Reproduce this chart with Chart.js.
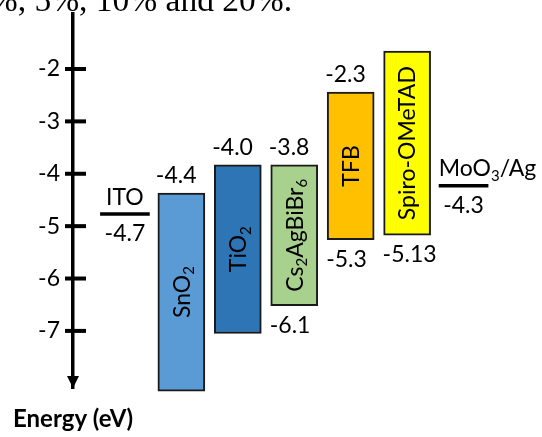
<!DOCTYPE html>
<html>
<head>
<meta charset="utf-8">
<script src="https://cdn.jsdelivr.net/npm/chart.js@4/dist/chart.umd.min.js"></script>
<style>
  html, body { margin: 0; padding: 0; background: #fff; }
</style>
</head>
<body>
<canvas id="energyChart" width="542" height="437"></canvas>
<script>
// ----------------------
// DATA
// ----------------------
const layers = ["SnO_2", "TiO_2", "Cs_2AgBiBr_6", "TFB", "Spiro-OMeTAD"];
const layerPos = [2, 3, 4, 5, 6];
const lumo = [-4.37, -3.83, -3.83, -2.44, -1.66];   // drawn top edges
const homo = [-8.15, -7.05, -6.52, -5.26, -5.17];   // drawn bottom edges
const lumoText = ["-4.4", "-4.0", "-3.8", "-2.3", ""];
const homoText = ["", "", "-6.1", "-5.3", "-5.13"];
const layerColors = ["#5b9bd5", "#2e75b6", "#a9d18e", "#ffc000", "#ffff00"];

const electrodes = ["ITO", "MoO_3/Ag"];
const electrodePos = [1, 7];
const workFn = [-4.77, -4.23];
const workFnText = ["-4.7", "-4.3"];

const yTicks = [-2, -3, -4, -5, -6, -7];
const yMin = -8.09, yMax = -0.95;

// ----------------------
// STYLE
// ----------------------
const FONT = "Lato, 'Open Sans', sans-serif";
const SIZE = 23;
const lineHalf = 0.44;   // half width of electrode level, x units

// ----------------------
// UTIL: text with _n subscripts
// ----------------------
function drawRich(ctx, txt, x, y, size, align) {
    const parts = txt.split(/_(\d)/);
    let w = 0;
    parts.forEach((p, i) => {
        ctx.font = (i % 2 ? size * 0.65 : size) + "px " + FONT;
        w += ctx.measureText(p).width;
    });
    let cx = align === "center" ? x - w / 2 : x;
    parts.forEach((p, i) => {
        const sub = i % 2 === 1;
        ctx.font = (sub ? size * 0.65 : size) + "px " + FONT;
        ctx.fillText(p, cx, y + (sub ? size * 0.2 : 0));
        cx += ctx.measureText(p).width;
    });
}

// ----------------------
// PLUGIN: axis arrow, ticks, labels
// ----------------------
const diagramPlugin = {
    id: "diagram",
    afterDraw(chart) {
        const ctx = chart.ctx;
        const ys = chart.scales.y;
        const xs = chart.scales.x;
        const ax = ys.right;
        ctx.save();
        ctx.fillStyle = "#000";
        ctx.strokeStyle = "#000";
        ctx.textBaseline = "alphabetic";
        ctx.textAlign = "left";

        // tick marks crossing the axis
        ctx.lineWidth = 4;
        ys.ticks.forEach(t => {
            const py = ys.getPixelForValue(t.value);
            ctx.beginPath();
            ctx.moveTo(ax - 8, py);
            ctx.lineTo(ax + 13, py);
            ctx.stroke();
        });

        // arrow head
        const tip = ys.getPixelForValue(yMin);
        ctx.beginPath();
        ctx.moveTo(ax - 6, tip - 12);
        ctx.lineTo(ax + 6, tip - 12);
        ctx.lineTo(ax, tip);
        ctx.closePath();
        ctx.fill();

        // layer labels
        const meta = chart.getDatasetMeta(0);
        meta.data.forEach((el, i) => {
            const top = Math.min(el.y, el.base);
            const bot = Math.max(el.y, el.base);
            const left = el.x - el.width / 2;
            if (lumoText[i]) drawRich(ctx, lumoText[i], left - 2, top - 10, SIZE, "left");
            if (homoText[i]) drawRich(ctx, homoText[i], left - 1, bot + 27, SIZE, "left");
            ctx.save();
            ctx.translate(el.x, (top + bot) / 2);
            ctx.rotate(-Math.PI / 2);
            drawRich(ctx, layers[i], 0, SIZE * 0.36, SIZE, "center");
            ctx.restore();
        });

        // electrode labels
        electrodes.forEach((name, i) => {
            const cx = xs.getPixelForValue(electrodePos[i]);
            const py = ys.getPixelForValue(workFn[i]);
            if (i === 0) drawRich(ctx, name, cx, py - 9.5, SIZE, "center");
            else drawRich(ctx, name, xs.getPixelForValue(electrodePos[i] - lineHalf), py - 9.5, SIZE, "left");
            drawRich(ctx, workFnText[i], cx, py + 27, SIZE, "center");
        });

        // axis title
        ctx.font = "bold 24px " + FONT;
        ctx.fillText("Energy (eV)", 13, 427);

        // cropped caption from the page above
        ctx.font = "33.5px 'Liberation Serif', serif";
        ctx.fillText("0%, 5%, 10% and 20%.", -27, 11);
        ctx.restore();
    }
};

// ----------------------
// CHART
// ----------------------
const barData = layers.map((_, i) => ({ x: layerPos[i], y: [homo[i], lumo[i]] }));
const levelSets = electrodes.map((name, i) => ({
    type: "line",
    label: name,
    data: [
        { x: electrodePos[i] - lineHalf, y: workFn[i] },
        { x: electrodePos[i] + lineHalf, y: workFn[i] }
    ],
    borderColor: "#000",
    borderWidth: 3.5,
    borderCapStyle: "butt",
    pointRadius: 0
}));

new Chart(document.getElementById("energyChart"), {
    type: "bar",
    data: {
        datasets: [{
            label: "layers",
            data: barData,
            backgroundColor: layerColors,
            borderColor: "#1a1a1a",
            borderWidth: 2,
            borderSkipped: false,
            barThickness: 47,
            clip: false
        }, ...levelSets]
    },
    options: {
        responsive: false,
        animation: false,
        layout: { padding: { top: 14, bottom: 49, right: 22, left: 0 } },
        plugins: { legend: { display: false }, tooltip: { enabled: false } },
        scales: {
            x: { type: "linear", min: 0.08, max: 8, offset: false, display: false },
            y: {
                type: "linear",
                min: yMin,
                max: yMax,
                ticks: {
                    stepSize: 1,
                    padding: 0,
                    color: "#000",
                    font: { family: FONT, size: SIZE, lineHeight: 1.1 }
                },
                afterBuildTicks: s => { s.ticks = s.ticks.filter(t => yTicks.includes(t.value)); },
                afterFit: s => { s.width = 73; },
                grid: { drawOnChartArea: false, drawTicks: true, tickLength: 13, tickColor: "rgba(0,0,0,0)" },
                border: { display: true, color: "#000", width: 3.5 }
            }
        }
    },
    plugins: [diagramPlugin]
});
</script>
</body>
</html>
